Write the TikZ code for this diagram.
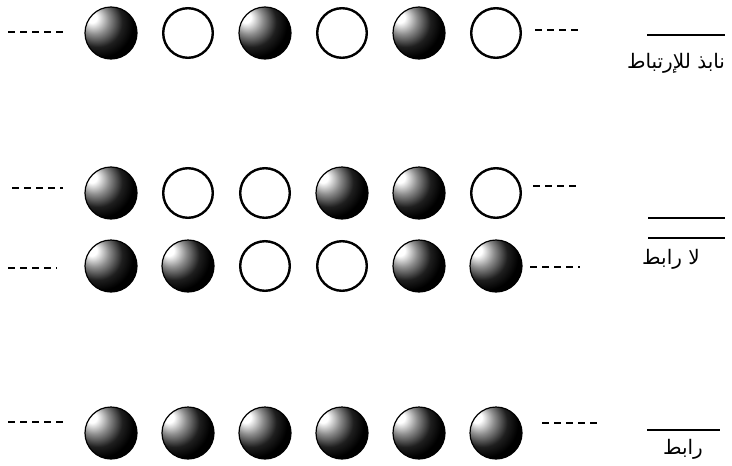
\documentclass[tikz,border=0pt]{standalone}
\usepackage{fontspec}
\newfontfamily\arabicfont[Script=Arabic]{DejaVu Sans}
\TeXXeTstate=1
\usetikzlibrary{positioning}
\pgfdeclareradialshading{sphere}{\pgfpoint{-20bp}{16bp}}{%
  color(0bp)=(white); color(5bp)=(white); color(14bp)=(black!45);
  color(24bp)=(black!88); color(32bp)=(black); color(70bp)=(black)}
\tikzset{
  occupied/.style={circle, draw=black, line width=1.2pt, minimum size=52pt,
                   inner sep=0pt, outer sep=0pt, shading=sphere},
  vacant/.style={circle, draw=black, line width=2.4pt, minimum size=49.6pt,
                 inner sep=0pt, outer sep=1.2pt, fill=white},
  dots/.style={line width=2.4pt, dash pattern=on 7pt off 5pt},
  level/.style={line width=1.8pt},
  lbl/.style={font=\arabicfont\fontsize{20}{22}\selectfont, inner sep=0pt}
}

\begin{document}
\begin{tikzpicture}[x=1pt, y=-1pt, node distance=25pt]
    \useasboundingbox (0,0) rectangle (732,466);
    % antibonding row
    \node[occupied] (a1) at (111,33) {};
    \node[vacant,   right=of a1] (a2) {};
    \node[occupied, right=of a2] (a3) {};
    \node[vacant,   right=of a3] (a4) {};
    \node[occupied, right=of a4] (a5) {};
    \node[vacant,   right=of a5] (a6) {};
    % nonbonding rows
    \node[occupied] (n1) at (111,193) {};
    \node[vacant,   right=of n1] (n2) {};
    \node[vacant,   right=of n2] (n3) {};
    \node[occupied, right=of n3] (n4) {};
    \node[occupied, right=of n4] (n5) {};
    \node[vacant,   right=of n5] (n6) {};
    \node[occupied] (m1) at (111,266) {};
    \node[occupied, right=of m1] (m2) {};
    \node[vacant,   right=of m2] (m3) {};
    \node[vacant,   right=of m3] (m4) {};
    \node[occupied, right=of m4] (m5) {};
    \node[occupied, right=of m5] (m6) {};
    % bonding row
    \node[occupied] (b1) at (111,433) {};
    \node[occupied, right=of b1] (b2) {};
    \node[occupied, right=of b2] (b3) {};
    \node[occupied, right=of b3] (b4) {};
    \node[occupied, right=of b4] (b5) {};
    \node[occupied, right=of b5] (b6) {};

    % chain continues
    \coordinate (aL) at (8,32);   \coordinate (aLe) at (63,32);
    \coordinate (aR) at (535,30); \coordinate (aRe) at (583,30);
    \coordinate (nL) at (12,188); \coordinate (nLe) at (63,188);
    \coordinate (nR) at (533,186); \coordinate (nRe) at (578,186);
    \coordinate (mL) at (8,268);  \coordinate (mLe) at (57,268);
    \coordinate (mR) at (530,267); \coordinate (mRe) at (580,267);
    \coordinate (bL) at (8,422);  \coordinate (bLe) at (65,422);
    \coordinate (bR) at (542,423); \coordinate (bRe) at (597,423);
    \draw[dots] (aL) -- (aLe);  \draw[dots] (aR) -- (aRe);
    \draw[dots] (nL) -- (nLe);  \draw[dots] (nR) -- (nRe);
    \draw[dots] (mL) -- (mLe);  \draw[dots] (mR) -- (mRe);
    \draw[dots] (bL) -- (bLe);  \draw[dots] (bR) -- (bRe);

    % energy levels
    \coordinate (la) at (647,35);  \coordinate (lae) at (725,35);
    \coordinate (ln) at (648,218); \coordinate (lne) at (725,218);
    \coordinate (lm) at (648,238); \coordinate (lme) at (725,238);
    \coordinate (lb) at (647,430); \coordinate (lbe) at (720,430);
    \draw[level] (la) -- (lae);
    \draw[level] (ln) -- (lne);
    \draw[level] (lm) -- (lme);
    \draw[level] (lb) -- (lbe);
    \node[lbl] (tanti) at (676,63)  {\beginR نابذ للإرتباط\endR};
    \node[lbl] (tnon)  at (671,259) {\beginR لا رابط\endR};
    \node[lbl] (tbond) at (683,449) {\beginR رابط\endR};
\end{tikzpicture}
\end{document}
